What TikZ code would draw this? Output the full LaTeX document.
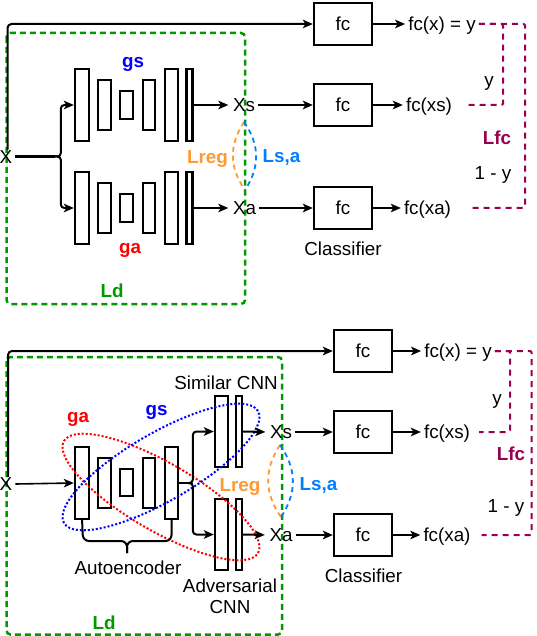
\documentclass[tikz,border=0pt]{standalone}
\usepackage{fontspec}
\setmainfont{Liberation Sans}
\usetikzlibrary{arrows.meta}
\definecolor{grn}{RGB}{0,153,0}
\definecolor{redc}{RGB}{255,0,0}
\definecolor{bluec}{RGB}{0,0,255}
\definecolor{orangec}{RGB}{255,153,51}
\definecolor{lblue}{RGB}{0,127,255}
\definecolor{purp}{RGB}{153,0,77}
\begin{document}
\begin{tikzpicture}[x=1pt,y=-1pt,
  every node/.style={font=\fontsize{18.8}{21}\selectfont},
  lbl/.style={inner ysep=0pt, inner xsep=3pt, text height=13.4pt, text depth=0pt},
  bl/.style={lbl, font=\fontsize{18.8}{21}\selectfont\bfseries},
  blk/.style={draw, line width=2.3pt, inner sep=0pt},
  fcbox/.style={draw, line width=2.3pt, minimum width=58pt, minimum height=42pt, inner sep=0pt},
  arr/.style={-{Stealth[length=10pt,width=8.5pt,inset=2.5pt]}, line width=2pt},
  frame/.style={draw=grn, line width=2.5pt, dash pattern=on 6pt off 4pt, rounded corners=4pt},
  pur/.style={draw=purp, line width=2pt, dash pattern=on 6pt off 5pt, rounded corners=2pt},
  lensO/.style={draw=orangec, line width=1.8pt, dash pattern=on 5pt off 4pt},
  lensB/.style={draw=lblue, line width=1.8pt, dash pattern=on 5pt off 4pt},
  dotr/.style={draw=redc, line width=2pt, dash pattern=on 2pt off 2pt},
  dotb/.style={draw=bluec, line width=2pt, dash pattern=on 2pt off 2pt}
]
\useasboundingbox (0,0) rectangle (536,636);

% ================= TOP DIAGRAM =================
\draw[frame] (6.5,33) rectangle (245,304);

% encoder-decoder blocks gs
\node[blk, minimum width=14pt, minimum height=72pt] (gs1) at (82,105) {};
\node[blk, minimum width=13pt, minimum height=50pt] (gs2) at (104.5,105) {};
\node[blk, minimum width=13pt, minimum height=28pt] (gs3) at (126.5,105) {};
\node[blk, minimum width=12.5pt, minimum height=50pt] (gs4) at (149,105) {};
\node[blk, minimum width=13pt, minimum height=72pt] (gs5) at (171.5,105) {};
\node[blk, minimum width=6pt, minimum height=72pt] (gs6) at (189.5,105) {};
% ga
\node[blk, minimum width=14pt, minimum height=72pt] (ga1) at (82,208) {};
\node[blk, minimum width=13pt, minimum height=50pt] (ga2) at (104.5,208) {};
\node[blk, minimum width=13pt, minimum height=28pt] (ga3) at (126.5,208) {};
\node[blk, minimum width=12.5pt, minimum height=50pt] (ga4) at (149,208) {};
\node[blk, minimum width=13pt, minimum height=72pt] (ga5) at (171.5,208) {};
\node[blk, minimum width=6pt, minimum height=72pt] (ga6) at (189.5,208) {};

\node[lbl] (X1) at (6,156.5) {X};
\node[lbl] (Xs1) at (244,105) {Xs};
\node[lbl] (Xa1) at (244.5,208) {Xa};

\node[fcbox] (fcA) at (343,24) {fc};
\node[fcbox] (fcB) at (343,105) {fc};
\node[fcbox] (fcC) at (343,208) {fc};

\node[lbl] (fcx1) at (442,24) {fc(x) = y};
\node[lbl] (fcxs1) at (429,105) {fc(xs)};
\node[lbl] (fcxa1) at (427.5,208) {fc(xa)};
\node[lbl] (cls1) at (343,249) {Classifier};

\node[bl, text=bluec] (gsL1) at (133,60.5) {gs};
\node[bl, text=redc] (gaL1) at (130,247) {ga};
\node[bl, text=grn] (Ld1) at (112,291) {Ld};
\node[bl, text=orangec] (Lreg1) at (207.5,156.5) {Lreg};
\node[bl, text=lblue] (Lsa1) at (281.5,156) {Ls,a};
\node[bl, text=purp] (Lfc1) at (497,138) {Lfc};
\node[lbl] (y1) at (489,80) {y};
\node[lbl] (omy1) at (493,172.5) {1 - y};

% connectors
\draw[arr, rounded corners=4pt] ([xshift=1.5pt]X1.north) |- (fcA.west);
\coordinate (s1) at (55,156.5);
\draw[line width=2.6pt] (X1.east) -- (s1);
\draw[arr, rounded corners=3.5pt] (s1) -| ([xshift=-13pt]gs1.west) -- (gs1.west);
\draw[arr, rounded corners=3.5pt] (s1) -| ([xshift=-13pt]ga1.west) -- (ga1.west);
\draw[arr, shorten >=1.5pt] (gs6.east) -- (Xs1.west);
\draw[arr, shorten >=1.5pt] (ga6.east) -- (Xa1.west);
\draw[arr] (Xs1.east) -- (fcB.west);
\draw[arr] (Xa1.east) -- (fcC.west);
\draw[arr] (fcA.east) -- (fcx1.west);
\draw[arr] (fcB.east) -- (fcxs1.west);
\draw[arr] (fcC.east) -- (fcxa1.west);

\coordinate (l1t) at (244,122);
\coordinate (l1b) at (245,190);
\draw[lensO] (l1t) .. controls (229,145) and (229,167) .. (l1b);
\draw[lensB] (l1t) .. controls (260,145) and (260,167) .. (l1b);

\draw[pur] (fcx1.east) -| ([xshift=48pt]fcxs1.east) -- ([xshift=10pt]fcxs1.east);
\draw[pur] (fcx1.east) -| ([xshift=71pt]fcxa1.east) -- ([xshift=16pt]fcxa1.east);

% ================= BOTTOM DIAGRAM =================
\draw[frame] (6.5,357) rectangle (282,634.5);

\node[blk, minimum width=14pt, minimum height=72pt] (ae1) at (82,483) {};
\node[blk, minimum width=13pt, minimum height=50pt] (ae2) at (104.5,483) {};
\node[blk, minimum width=13pt, minimum height=27pt] (ae3) at (126.5,482.5) {};
\node[blk, minimum width=12.5pt, minimum height=50pt] (ae4) at (149,483) {};
\node[blk, minimum width=13pt, minimum height=72pt] (ae5) at (171.5,483) {};

\node[blk, minimum width=13pt, minimum height=71pt] (sc1) at (221.5,431.5) {};
\node[blk, minimum width=6pt, minimum height=71pt] (sc2) at (239,431.5) {};
\node[blk, minimum width=13pt, minimum height=71pt] (ad1) at (221.5,534.5) {};
\node[blk, minimum width=6pt, minimum height=71pt] (ad2) at (239,534.5) {};

\node[lbl] (X2) at (6,484) {X};
\node[lbl] (Xs2) at (281,432) {Xs};
\node[lbl] (Xa2) at (281,535) {Xa};

\node[fcbox] (fcD) at (363,351) {fc};
\node[fcbox] (fcE) at (363,432) {fc};
\node[fcbox] (fcF) at (363,535) {fc};

\node[lbl] (fcx2) at (458,351) {fc(x) = y};
\node[lbl] (fcxs2) at (447,432) {fc(xs)};
\node[lbl] (fcxa2) at (447,535) {fc(xa)};
\node[lbl] (cls2) at (363.5,576) {Classifier};
\node[lbl] (simc) at (226,383) {Similar CNN};
\node[lbl] (aec) at (128,567.5) {Autoencoder};
\node[align=center, inner sep=0pt] (advc) at (230,596.5) {Adversarial\\CNN};

\node[bl, text=redc] (gaL2) at (78,415.5) {ga};
\node[bl, text=bluec] (gsL2) at (156.5,408.5) {gs};
\node[bl, text=orangec] (Lreg2) at (240,484.5) {Lreg};
\node[bl, text=lblue] (Lsa2) at (318.5,484) {Ls,a};
\node[bl, text=grn] (Ld2) at (104,622.5) {Ld};
\node[bl, text=purp] (Lfc2) at (511,454) {Lfc};
\node[lbl] (y2) at (497,398) {y};
\node[lbl] (omy2) at (506,506) {1 - y};

% ellipses
\draw[dotr, rotate around={-30:(161,497)}] (161,497) ellipse [x radius=112pt, y radius=34pt];
\draw[dotb, rotate around={30:(161,467)}] (161,467) ellipse [x radius=112pt, y radius=34pt];

% connectors
\draw[arr, rounded corners=4pt] ([xshift=2pt]X2.north) |- (fcD.west);
\draw[arr, line width=1.6pt] (X2.east) -- (ae1.west);
\coordinate (s2) at (188,483);
\draw[line width=2pt] (ae5.east) -- (s2);
\draw[arr, rounded corners=3.5pt] (s2) -| ([xshift=-21pt]sc1.west) -- (sc1.west);
\draw[arr, rounded corners=3.5pt] (s2) -| ([xshift=-21pt]ad1.west) -- (ad1.west);
\draw[arr, shorten >=1.5pt] (sc2.east) -- (Xs2.west);
\draw[arr, shorten >=1.5pt] (ad2.east) -- (Xa2.west);
\draw[arr] (Xs2.east) -- (fcE.west);
\draw[arr] (Xa2.east) -- (fcF.west);
\draw[arr] (fcD.east) -- (fcx2.west);
\draw[arr] (fcE.east) -- (fcxs2.west);
\draw[arr] (fcF.east) -- (fcxa2.west);

% autoencoder brace
\coordinate (bt) at (127,553);
\draw[line width=2pt, rounded corners=6pt] ([yshift=2pt]ae1.south) -- (83,541) -- (127,541) -- (bt);
\draw[line width=2pt, rounded corners=6pt] ([yshift=2pt]ae5.south) -- (171.5,541) -- (127,541) -- (bt);

\coordinate (l2t) at (280,445);
\coordinate (l2b) at (281,517);
\draw[lensO] (l2t) .. controls (264,469) and (264,493) .. (l2b);
\draw[lensB] (l2t) .. controls (297,469) and (297,493) .. (l2b);

\draw[pur] (fcx2.east) -| ([xshift=37pt]fcxs2.east) -- ([xshift=6pt]fcxs2.east);
\draw[pur] (fcx2.east) -| ([xshift=58pt]fcxa2.east) -- ([xshift=8pt]fcxa2.east);
\end{tikzpicture}
\end{document}
